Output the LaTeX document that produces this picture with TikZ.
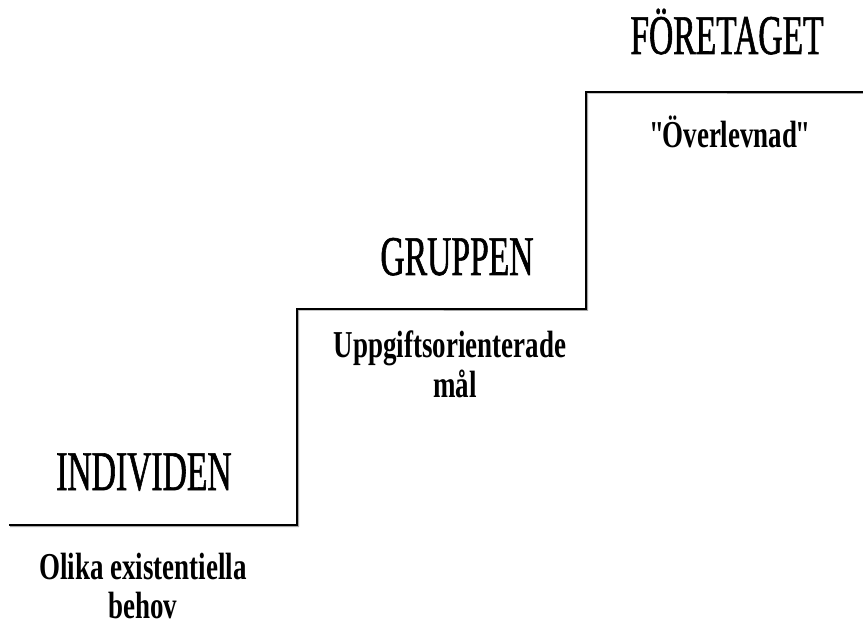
\documentclass[tikz,border=0pt]{standalone}
\usepackage{fontspec}
\setmainfont{Liberation Serif}
\newfontfamily\headfont[FakeStretch=0.6,FakeBold=1]{Liberation Serif}
\newfontfamily\subfont[FakeStretch=0.71]{Liberation Serif}
\begin{document}
\begin{tikzpicture}[x=1pt,y=-1pt,
  heading/.style={anchor=base,inner sep=0pt,font=\headfont\fontsize{56}{60}\selectfont},
  subtext/.style={anchor=base,inner sep=0pt,font=\subfont\bfseries\fontsize{38}{44}\selectfont},
  stairs/.style={line width=2pt,line cap=butt,line join=miter}]
\useasboundingbox (0,0) rectangle (863,628);

% stair line
\coordinate (s0) at (9,525);
\coordinate (s1) at (297,525);
\coordinate (s2) at (297,309);
\coordinate (s3) at (586,309);
\coordinate (s4) at (586,92);
\coordinate (s5) at (863,92);
\draw[black!35,line width=1pt] ([shift={(1,1.5)}]s0) -- ([shift={(1.5,1.5)}]s1) -- ([shift={(1.5,1)}]s2) -- ([shift={(1.5,1.5)}]s3) -- ([shift={(1.5,1)}]s4) -- ([shift={(0,1.5)}]s5);
\draw[stairs] (s0) -- (s1) -- (s2) -- (s3) -- (s4) -- (s5);

% levels
\node[heading] (individ) at (144,490) {INDIVIDEN};
\node[subtext] (behov1) at (143,579) {Olika existentiella};
\node[subtext] (behov2) at (143,618) {behov};

\node[heading] (grupp) at (457,275) {GRUPPEN};
\node[subtext] (mal1) at (450,358) {Uppgiftsorienterade};
\node[subtext] (mal2) at (455,398) {mål};

\node[heading] (foretag) at (727,54) {FÖRETAGET};
\node[subtext] (overlev) at (730,148) {"\kern-2pt Överlevnad\kern-2pt"};
\end{tikzpicture}
\end{document}
